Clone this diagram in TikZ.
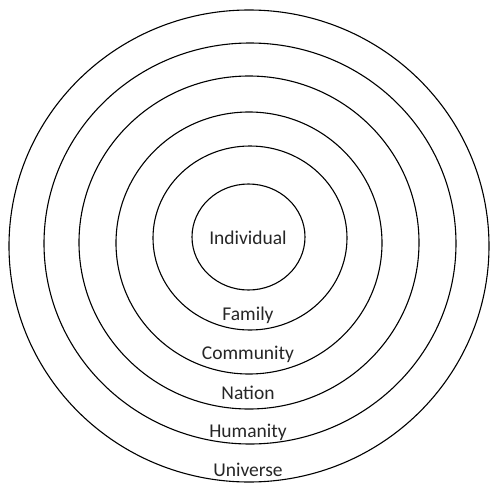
\documentclass[tikz,border=0pt]{standalone}
\usepackage{fontspec}
\setmainfont{Carlito}
\usepackage{tikz}

\begin{document}
\begin{tikzpicture}[
  x=1pt, y=-1pt,
  ring/.style={draw, line width=1.1pt},
  label/.style={font=\fontsize{19.5}{22}\selectfont, text=black!85, inner sep=0pt, anchor=center}
]
\useasboundingbox (0,0) rectangle (491,485);
% rings, inner to outer
\draw[ring] (248.5,237) ellipse [x radius=56.5, y radius=53];
\draw[ring] (250,238) ellipse [x radius=97, y radius=92];
\draw[ring] (249,243) ellipse [x radius=133, y radius=131];
\draw[ring] (249,242.5) ellipse [x radius=170, y radius=166.5];
\draw[ring] (250,243.5) ellipse [x radius=206, y radius=200.5];
\draw[ring] (249,246) ellipse [x radius=240, y radius=236];
% ring names
\node[label] (individual) at (248,238) {Individual};
\node[label] (family) at (248,315) {Family};
\node[label] (community) at (248,354) {Community};
\node[label] (nation) at (248,393) {Nation};
\node[label] (humanity) at (248,432) {Humanity};
\node[label] (universe) at (248,470) {Universe};
\end{tikzpicture}
\end{document}
